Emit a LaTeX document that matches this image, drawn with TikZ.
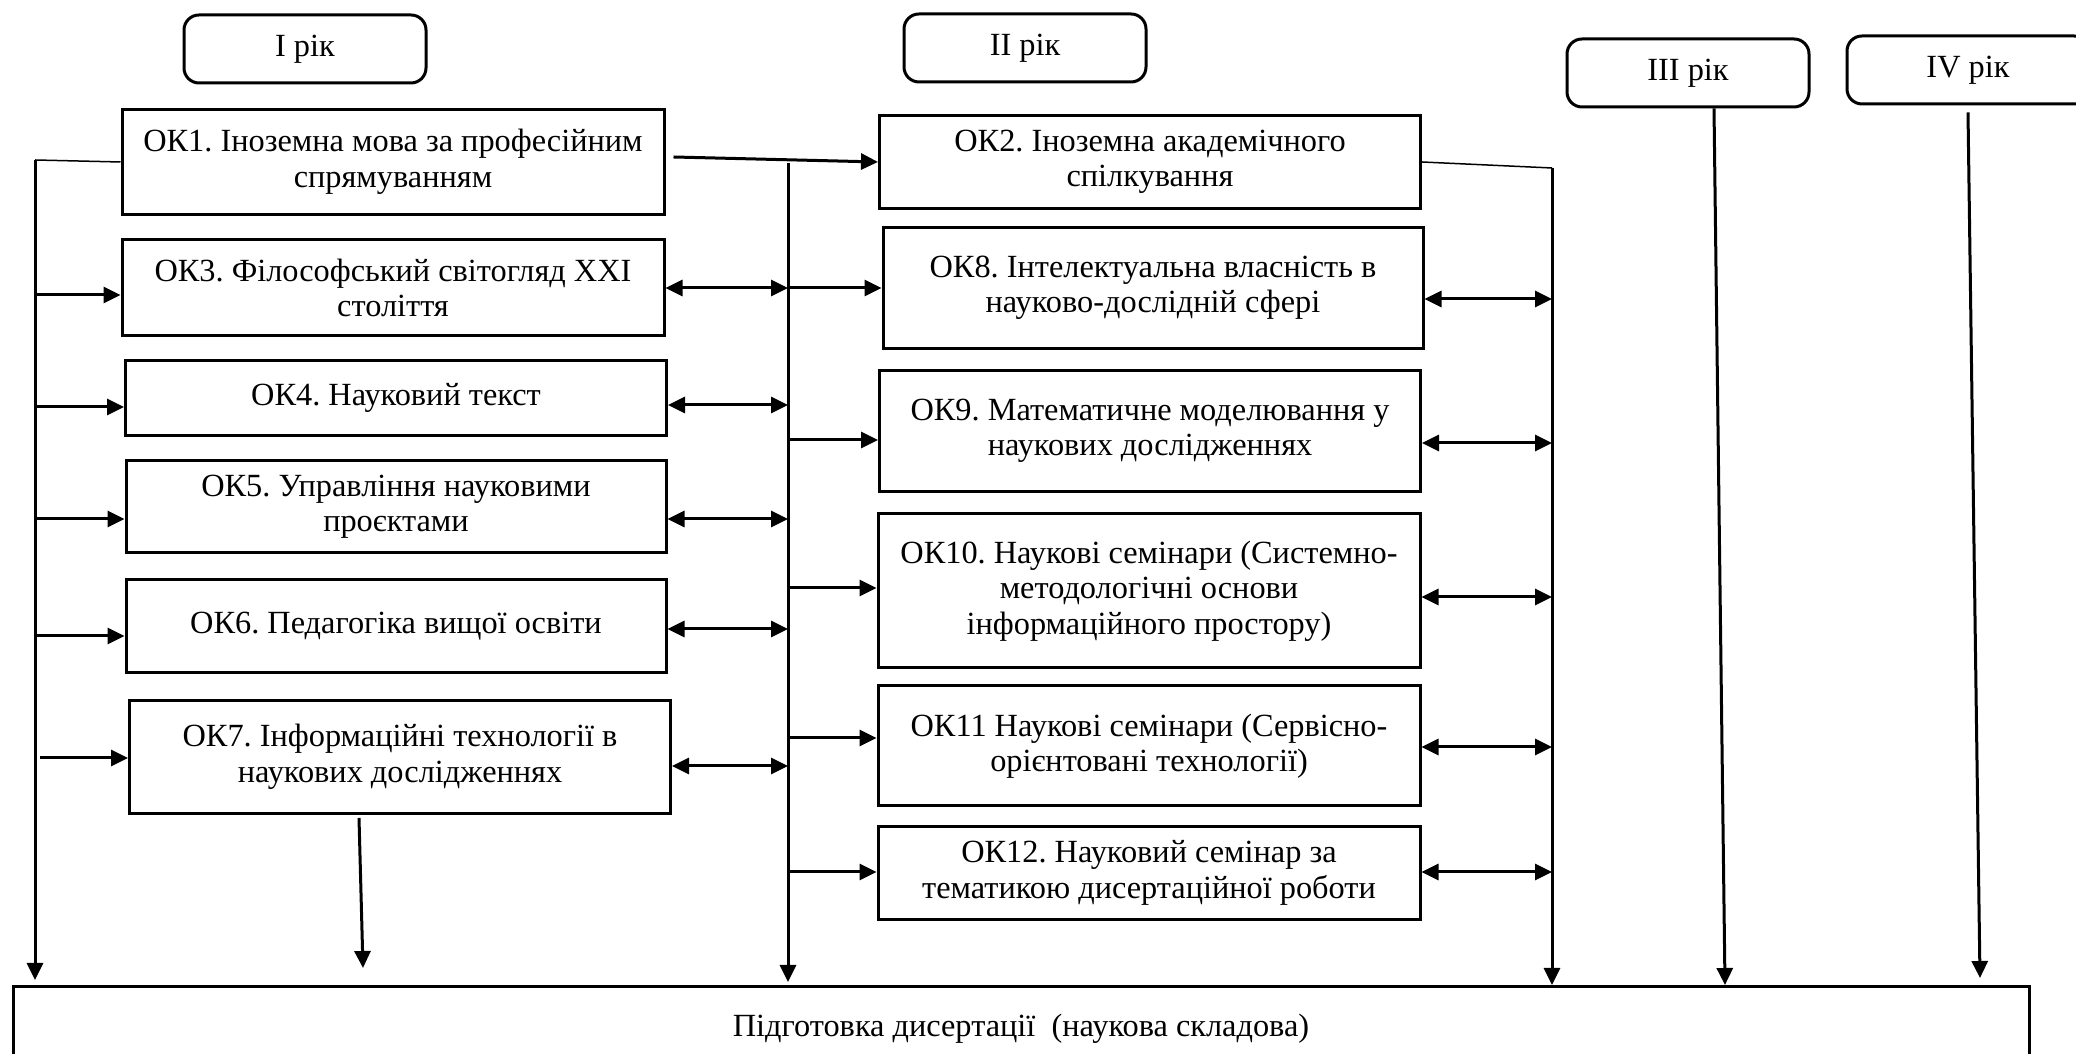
\documentclass[tikz,border=0pt]{standalone}
\usepackage{fontspec}
\setmainfont{Liberation Serif}
\usetikzlibrary{arrows.meta}
\frenchspacing

\begin{document}
\begin{tikzpicture}[x=0.1mm, y=-0.1mm,
  box/.style={draw, line width=0.3mm, inner sep=0pt, align=center,
              font=\fontsize{9.2}{10.1}\selectfont},
  yearbox/.style={box, rounded corners=1.5mm, minimum width=24.2mm, minimum height=6.8mm},
  ln/.style={line width=0.3mm},
  thinln/.style={line width=0.15mm},
  arr/.style={ln, -{Triangle[length=1.7mm,width=1.6mm]}},
  darr/.style={ln, {Triangle[length=1.7mm,width=1.6mm]}-{Triangle[length=1.7mm,width=1.6mm]}}]
      \useasboundingbox (0,0) rectangle (2076,1054);

      \node[yearbox] (yr1) at (305,49) {I рік};
      \node[yearbox] (yr2) at (1025,48) {II рік};
      \node[yearbox] (yr3) at (1688,73) {III рік};
      \node[yearbox] (yr4) at (1968,70) {IV рік};

      \node[box, minimum width=54.2mm, minimum height=10.5mm] (ok1) at (393,162) {ОК1. Іноземна мова за професійним\\спрямуванням};
      \node[box, minimum width=54.2mm, minimum height=9.6mm] (ok3) at (393,288) {ОК3. Філософський світогляд XXI\\століття};
      \node[box, minimum width=54.1mm, minimum height=7.5mm] (ok4) at (396,398) {ОК4. Науковий текст};
      \node[box, minimum width=54mm, minimum height=9.2mm] (ok5) at (396,507) {ОК5. Управління науковими\\проєктами};
      \node[box, minimum width=54mm, minimum height=9.3mm] (ok6) at (396,626) {ОК6. Педагогіка вищої освіти};
      \node[box, minimum width=54.1mm, minimum height=11.3mm] (ok7) at (400,757) {ОК7. Інформаційні технології в\\наукових дослідженнях};

      \node[box, minimum width=54.1mm, minimum height=9.3mm] (ok2) at (1150,162) {ОК2. Іноземна академічного\\спілкування};
      \node[box, minimum width=54mm, minimum height=12.1mm] (ok8) at (1153,288) {ОК8. Інтелектуальна власність в\\науково-дослідній сфері};
      \node[box, minimum width=54.1mm, minimum height=12.1mm] (ok9) at (1150,431) {ОК9. Математичне моделювання у\\наукових дослідженнях};
      \node[box, minimum width=54.2mm, minimum height=15.4mm] (ok10) at (1149,591) {ОК10. Наукові семінари (Системно-\\методологічні основи\\інформаційного простору)};
      \node[box, minimum width=54.2mm, minimum height=12mm] (ok11) at (1149,746) {ОК11 Наукові семінари (Сервісно-\\орієнтовані технології)};
      \node[box, minimum width=54.2mm, minimum height=9.3mm] (ok12) at (1149,873) {ОК12. Науковий семінар за\\тематикою дисертаційної роботи};

      \node[box, minimum width=201.6mm, minimum height=8.4mm] (dis) at (1021,1029) {Підготовка дисертації \ (наукова складова)};

      \coordinate (lt) at (35,160);
      \coordinate (lb) at (35,980);
      \coordinate (mt) at (788,163);
      \coordinate (mb) at (788,982);
      \coordinate (rt) at (1552,168);
      \coordinate (rb) at (1552,985);
      \coordinate (y3b) at (1725,985);
      \coordinate (y4b) at (1980,978);
      \coordinate (k7b) at (363,968);

      \draw[thinln] (ok1.west) -- (lt);
      \draw[arr] (lt) -- (lb);
      \draw[arr] (lt |- 0,295) -- (ok3.west |- 0,295);
      \draw[arr] (lt |- 0,407) -- (ok4.west |- 0,407);
      \draw[arr] (lt |- 0,519) -- (ok5.west |- 0,519);
      \draw[arr] (lt |- 0,636) -- (ok6.west |- 0,636);
      \draw[arr] (40,758) -- (ok7.west |- 0,758);
      \draw[arr] ([xshift=-4.1mm,yshift=-0.3mm]ok7.south) -- (k7b);

      \draw[arr] (mt) -- (mb);
      \draw[arr] ([xshift=0.8mm,yshift=0.5mm]ok1.east) -- (ok2.west);
      \draw[darr] (ok3.east) -- (ok3.east -| mt);
      \draw[darr] (ok4.east |- 0,405) -- (mt |- 0,405);
      \draw[darr] (ok5.east |- 0,519) -- (mt |- 0,519);
      \draw[darr] (ok6.east |- 0,629) -- (mt |- 0,629);
      \draw[darr] (ok7.east |- 0,766) -- (mt |- 0,766);

      \draw[arr] (mt |- ok8) -- (ok8.west);
      \draw[arr] (mt |- 0,440) -- (ok9.west |- 0,440);
      \draw[arr] (mt |- 0,588) -- (ok10.west |- 0,588);
      \draw[arr] (mt |- 0,738) -- (ok11.west |- 0,738);
      \draw[arr] (mt |- 0,872) -- (ok12.west |- 0,872);

      \draw[thinln] (ok2.east) -- (rt);
      \draw[arr] (rt) -- (rb);
      \draw[darr] (ok8.east |- 0,299) -- (rt |- 0,299);
      \draw[darr] (ok9.east |- 0,443) -- (rt |- 0,443);
      \draw[darr] (ok10.east |- 0,597) -- (rt |- 0,597);
      \draw[darr] (ok11.east |- 0,747) -- (rt |- 0,747);
      \draw[darr] (ok12.east |- 0,872) -- (rt |- 0,872);

      \draw[arr] ([xshift=2.6mm]yr3.south) -- (y3b);
      \draw[arr] ([yshift=-0.7mm]yr4.south) -- (y4b);
    \end{tikzpicture}
\end{document}
